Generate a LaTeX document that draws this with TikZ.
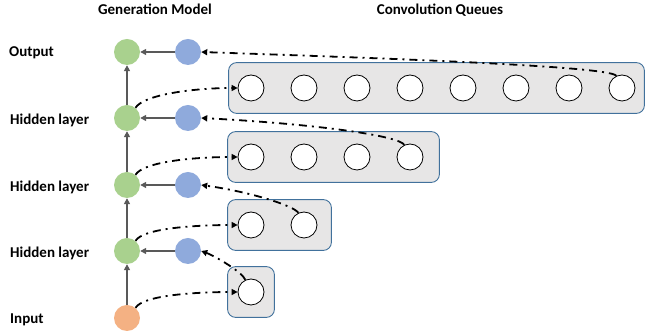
\documentclass[tikz,border=0pt]{standalone}
\usepackage{fontspec}
\setmainfont{Carlito}
\usetikzlibrary{arrows.meta, positioning, fit, backgrounds}
\definecolor{genGreen}{RGB}{169,209,142}
\definecolor{genBlue}{RGB}{143,170,220}
\definecolor{genOrange}{RGB}{244,177,131}
\definecolor{queueFill}{RGB}{231,230,230}
\definecolor{queueEdge}{RGB}{65,113,156}
\definecolor{linkGray}{RGB}{89,89,89}

\begin{document}
\begin{tikzpicture}[x=1pt, y=1pt, font=\fontsize{15}{18}\selectfont\bfseries]
  % Styles for the layers and queues
  \tikzset{gnode/.style={circle, fill=genGreen, minimum size=26pt, inner sep=0pt}}
  \tikzset{bnode/.style={circle, fill=genBlue, minimum size=26pt, inner sep=0pt}}
  \tikzset{cell/.style={circle, draw=black, fill=white, line width=0.8pt, minimum size=26pt, inner sep=0pt}}
  \tikzset{queue/.style={draw=queueEdge, fill=queueFill, rounded corners=8pt, line width=0.9pt, inner xsep=10pt, inner ysep=12pt}}
  \tikzset{flow/.style={-{Triangle[length=6pt,width=6pt]}, draw=linkGray, line width=1.8pt}}
  \tikzset{conv/.style={-{Triangle[length=6pt,width=6pt]}, line width=1.8pt, dash pattern=on 8pt off 5pt on 2pt off 5pt}}

  \useasboundingbox (0,0) rectangle (646,331);

  % Titles
  \node[anchor=base, inner sep=0pt] (tGen) at (155,316) {Generation Model};
  \node[anchor=base, inner sep=0pt] (tConv) at (440,316) {Convolution Queues};

  % Layer labels
  \node[anchor=base west, inner sep=0pt] (lOut) at (9,274) {Output};
  \node[anchor=base west, inner sep=0pt] (lH3) at (10,206) {Hidden layer};
  \node[anchor=base west, inner sep=0pt] (lH2) at (10,139) {Hidden layer};
  \node[anchor=base west, inner sep=0pt] (lH1) at (10,73) {Hidden layer};
  \node[anchor=base west, inner sep=0pt] (lIn) at (10,7) {Input};

  % Generation model nodes
  \node[circle, fill=genOrange, minimum size=26pt, inner sep=0pt] (g0) at (127,13) {};
  \node[gnode] (g1) at (127,80) {};
  \node[gnode] (g2) at (127,146) {};
  \node[gnode] (g3) at (127,213) {};
  \node[gnode] (g4) at (127,279) {};
  \node[bnode] (b1) at (188,80) {};
  \node[bnode] (b2) at (188,146) {};
  \node[bnode] (b3) at (188,213) {};
  \node[bnode] (b4) at (188,279) {};

  % Queue cells
  \foreach \i in {1,...,8} \node[cell] (qa\i) at (198+53*\i,243) {};
  \foreach \i in {1,...,4} \node[cell] (qb\i) at (198+53*\i,174) {};
  \foreach \i in {1,2} \node[cell] (qc\i) at (198+53*\i,106) {};
  \node[cell] (qd1) at (251,39) {};

  % Queue boxes
  \begin{scope}[on background layer]
    \node[queue, fit=(qa1)(qa8), inner xsep=9pt] (boxA) {};
    \node[queue, fit=(qb1)(qb4), xshift=3pt, inner xsep=13pt] (boxB) {};
    \node[queue, fit=(qc1)(qc2), xshift=2pt, inner xsep=12pt] (boxC) {};
    \node[queue, fit=(qd1)] (boxD) {};
  \end{scope}

  % Model links
  \foreach \l in {1,...,4} \draw[flow] (b\l) -- (g\l);
  \draw[flow] (g0) -- (g1);
  \draw[flow] (g1) -- (g2);
  \draw[flow] (g2) -- (g3);
  \draw[flow] (g3) -- (g4);

  % Queue reads and writes
  \draw[conv] (g0.50) .. controls +(60:15) and +(180:40) .. (qd1.west);
  \draw[conv] (qd1.115) .. controls +(110:8) and +(-20:15) .. (b1.east);
  \draw[conv] (g1.50) .. controls +(60:15) and +(180:40) .. (qc1.west);
  \draw[conv] (qc2.115) .. controls +(120:8) and +(-8:50) .. (b2.east);
  \draw[conv] (g2.50) .. controls +(60:15) and +(180:45) .. (qb1.west);
  \draw[conv] (qb4.115) .. controls +(120:10) and +(-3:120) .. (b3.east);
  \draw[conv] (g3.50) .. controls +(60:15) and +(180:45) .. (qa1.west);
  \draw[conv] (qa8.115) .. controls +(120:12) and +(-2:150) .. (b4.east);
\end{tikzpicture}
\end{document}
